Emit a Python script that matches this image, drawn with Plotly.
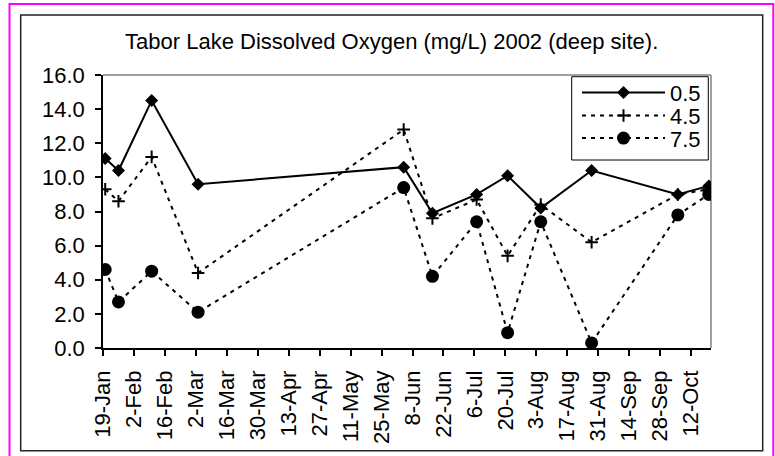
import plotly.graph_objects as go

dates = ["2002-01-20", "2002-01-26", "2002-02-10", "2002-03-03", "2002-06-04", "2002-06-17",
         "2002-07-07", "2002-07-21", "2002-08-05", "2002-08-28", "2002-10-06", "2002-10-20"]
do_05 = [11.1, 10.4, 14.5, 9.6, 10.6, 7.9, 9.0, 10.1, 8.2, 10.4, 9.0, 9.5]
do_45 = [9.3, 8.6, 11.2, 4.4, 12.8, 7.6, 8.7, 5.4, 8.4, 6.2, 9.0, 9.3]
do_75 = [4.6, 2.7, 4.5, 2.1, 9.4, 4.2, 7.4, 0.9, 7.4, 0.3, 7.8, 9.0]
series_names = ["0.5", "4.5", "7.5"]
title_text = "Tabor Lake Dissolved Oxygen (mg/L) 2002 (deep site)."

W, H = 775, 456
L, R, T, B = 103, 64, 75, 108
PW, PH = W - L - R, H - T - B
FONT = "Liberation Sans, Arial, sans-serif"
FS = 22


def px(x):
    return (x - L) / PW


def py(y):
    return (H - B - y) / PH


fig = go.Figure()
fig.add_trace(go.Scatter(x=dates, y=do_05, name=series_names[0], mode="lines+markers",
                         line=dict(color="black", width=2), legend="legend",
                         marker=dict(symbol="diamond", size=10, color="black")))
fig.add_trace(go.Scatter(x=dates, y=do_45, name=series_names[1], mode="lines+markers",
                         line=dict(color="black", width=2, dash="4px,5px"), legend="legend2",
                         marker=dict(symbol="cross-thin", size=9, color="black",
                                     line=dict(color="black", width=2))))
fig.add_trace(go.Scatter(x=dates, y=do_75, name=series_names[2], mode="lines+markers",
                         line=dict(color="black", width=2, dash="4px,5px"), legend="legend3",
                         marker=dict(symbol="circle", size=13, color="black")))

shapes = [
    # plot area top/right border (gray)
    dict(type="line", xref="paper", yref="paper", x0=0, x1=1, y0=1, y1=1,
         line=dict(color="#808080", width=1.5), layer="below"),
    dict(type="line", xref="paper", yref="paper", x0=1, x1=1, y0=0, y1=1,
         line=dict(color="#808080", width=1.5), layer="below"),
    # chart area border (black)
    dict(type="rect", xref="paper", yref="paper", x0=px(20.7), x1=px(762.7),
         y0=py(450.7), y1=py(15), line=dict(color="#222222", width=1.5), layer="below"),
    # outer magenta border
    dict(type="rect", xref="paper", yref="paper", x0=px(9.5), x1=px(773.3),
         y0=py(460), y1=py(4), line=dict(color="#FF00FF", width=2), layer="below"),
    # legend box
    dict(type="rect", xref="paper", yref="paper", x0=px(571.7), x1=px(708.3),
         y0=py(160), y1=py(76.7), line=dict(color="black", width=1),
         fillcolor="white", layer="above"),
]

leg_common = dict(xanchor="left", yanchor="middle", borderwidth=0, bgcolor="rgba(0,0,0,0)",
                  font=dict(family=FONT, size=FS, color="black"), itemwidth=83)

fig.update_layout(
    width=W, height=H,
    margin=dict(l=L, r=R, t=T, b=B),
    paper_bgcolor="white", plot_bgcolor="white",
    font=dict(family=FONT, size=FS, color="black"),
    title=dict(text=title_text, x=px(391.7), xref="paper", xanchor="center",
               y=1 - 41.7 / H, yref="container", yanchor="middle",
               font=dict(family=FONT, size=FS, color="black")),
    shapes=shapes,
    showlegend=True,
    legend=dict(x=px(577), y=py(92.7), **leg_common),
    legend2=dict(x=px(577), y=py(115.7), **leg_common),
    legend3=dict(x=px(577), y=py(138.3), **leg_common),
)

fig.update_xaxes(type="date", range=["2002-01-19", "2002-10-21"],
                 tickmode="linear", tick0="2002-01-19", dtick=14 * 86400000,
                 tickformat="%-d-%b", tickangle=-90,
                 showline=True, linecolor="black", linewidth=1.5,
                 ticks="outside", ticklen=6, tickcolor="black", tickwidth=1.5,
                 showgrid=False, zeroline=False, ticklabelstandoff=6,
                 tickfont=dict(family=FONT, size=FS, color="black"))
fig.update_yaxes(range=[0, 16], dtick=2, tick0=0, tickformat=".1f",
                 showline=True, linecolor="black", linewidth=1.5,
                 ticks="outside", ticklen=6, tickcolor="black", tickwidth=1.5,
                 showgrid=False, zeroline=False, ticklabelstandoff=6,
                 tickfont=dict(family=FONT, size=FS, color="black"))

fig.write_html("out.html", config={"displayModeBar": False},
               post_script="document.body.style.margin='0';document.body.style.overflow='hidden';")
